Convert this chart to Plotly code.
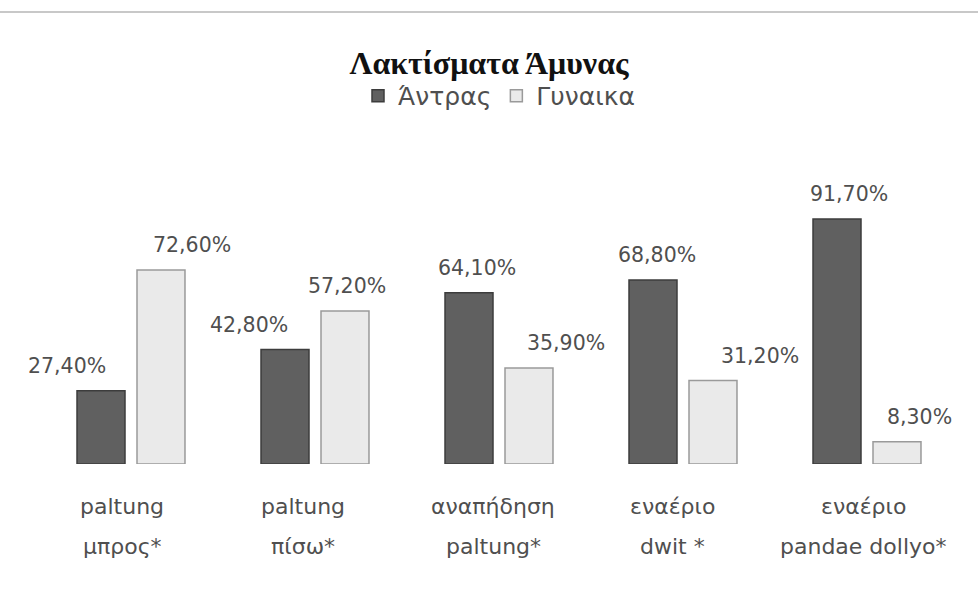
import plotly.graph_objects as go

# data
categories = ["paltung μπρος*", "paltung πίσω*", "αναπήδηση paltung*", "εναέριο dwit *", "εναέριο pandae dollyo*"]
label_line1 = ["paltung", "paltung", "αναπήδηση", "εναέριο", "εναέριο"]
label_line2 = ["μπρος*", "πίσω*", "paltung*", "dwit *", "pandae dollyo*"]
men = [27.4, 42.8, 64.1, 68.8, 91.7]
women = [72.6, 57.2, 35.9, 31.2, 8.3]
series_names = ["Άντρας", "Γυναικα"]

W, H = 978, 613
font = "DejaVu Sans"
gray_text = "#4f4f4f"

fig = go.Figure()
fig.add_trace(go.Bar(x=categories, y=men, name=series_names[0],
                     marker=dict(color="#606060", line=dict(color="#3c3c3c", width=1.5))))
fig.add_trace(go.Bar(x=categories, y=women, name=series_names[1],
                     marker=dict(color="#eaeaea", line=dict(color="#9a9a9a", width=1.5))))

# value labels sit a bit left/right of their bars, like in the original
shift_men = [-34, -36, 8, 4, 12]
shift_women = [31, 2, 37, 47, 22]
cat_shift = [-9, -12, -6, -11, -4]
annotations = []
for i, c in enumerate(categories):
    for vals, base, shifts in ((men, -30, shift_men), (women, 30, shift_women)):
        annotations.append(dict(x=c, y=vals[i], xref="x", yref="y", text=f"{vals[i]:.2f}%".replace(".", ","),
                                showarrow=False, xshift=base + shifts[i], yshift=25,
                                font=dict(family=font, size=20.5, color=gray_text)))
    annotations.append(dict(x=c, y=-0.143, xref="x", yref="paper", text=label_line1[i], showarrow=False,
                            xshift=cat_shift[i], yanchor="middle", font=dict(family=font, size=22, color=gray_text)))
    annotations.append(dict(x=c, y=-0.279, xref="x", yref="paper", text=label_line2[i], showarrow=False,
                            xshift=cat_shift[i], yanchor="middle", font=dict(family=font, size=22, color=gray_text)))

fig.update_layout(
    width=W, height=H,
    paper_bgcolor="white", plot_bgcolor="white",
    margin=dict(l=39, r=19, t=170, b=149),
    barmode="group", bargap=0.348, bargroupgap=0.2,
    title=dict(text="<b>Λακτίσματα Άμυνας</b>", x=0.5, xanchor="center", y=0.897, yanchor="middle",
               font=dict(family="Liberation Serif", size=32, color="#111111")),
    legend=dict(orientation="h", x=0.5, xanchor="center", y=1.252, yanchor="middle",
                font=dict(family=font, size=25, color=gray_text), itemwidth=30),
    xaxis=dict(range=[-0.5, 4.5], showticklabels=False, showline=False, showgrid=False, zeroline=False),
    yaxis=dict(range=[0, 110], visible=False),
    annotations=annotations,
    shapes=[dict(type="line", xref="paper", yref="paper", x0=-0.05, x1=1.03, y0=1.537, y1=1.537,
                 line=dict(color="#c8c8c8", width=2))],
)

# drop the default body margin so the figure sits at the page's top-left corner
fig.write_html("out.html", config={"displayModeBar": False},
               post_script="document.body.style.margin='0';")
